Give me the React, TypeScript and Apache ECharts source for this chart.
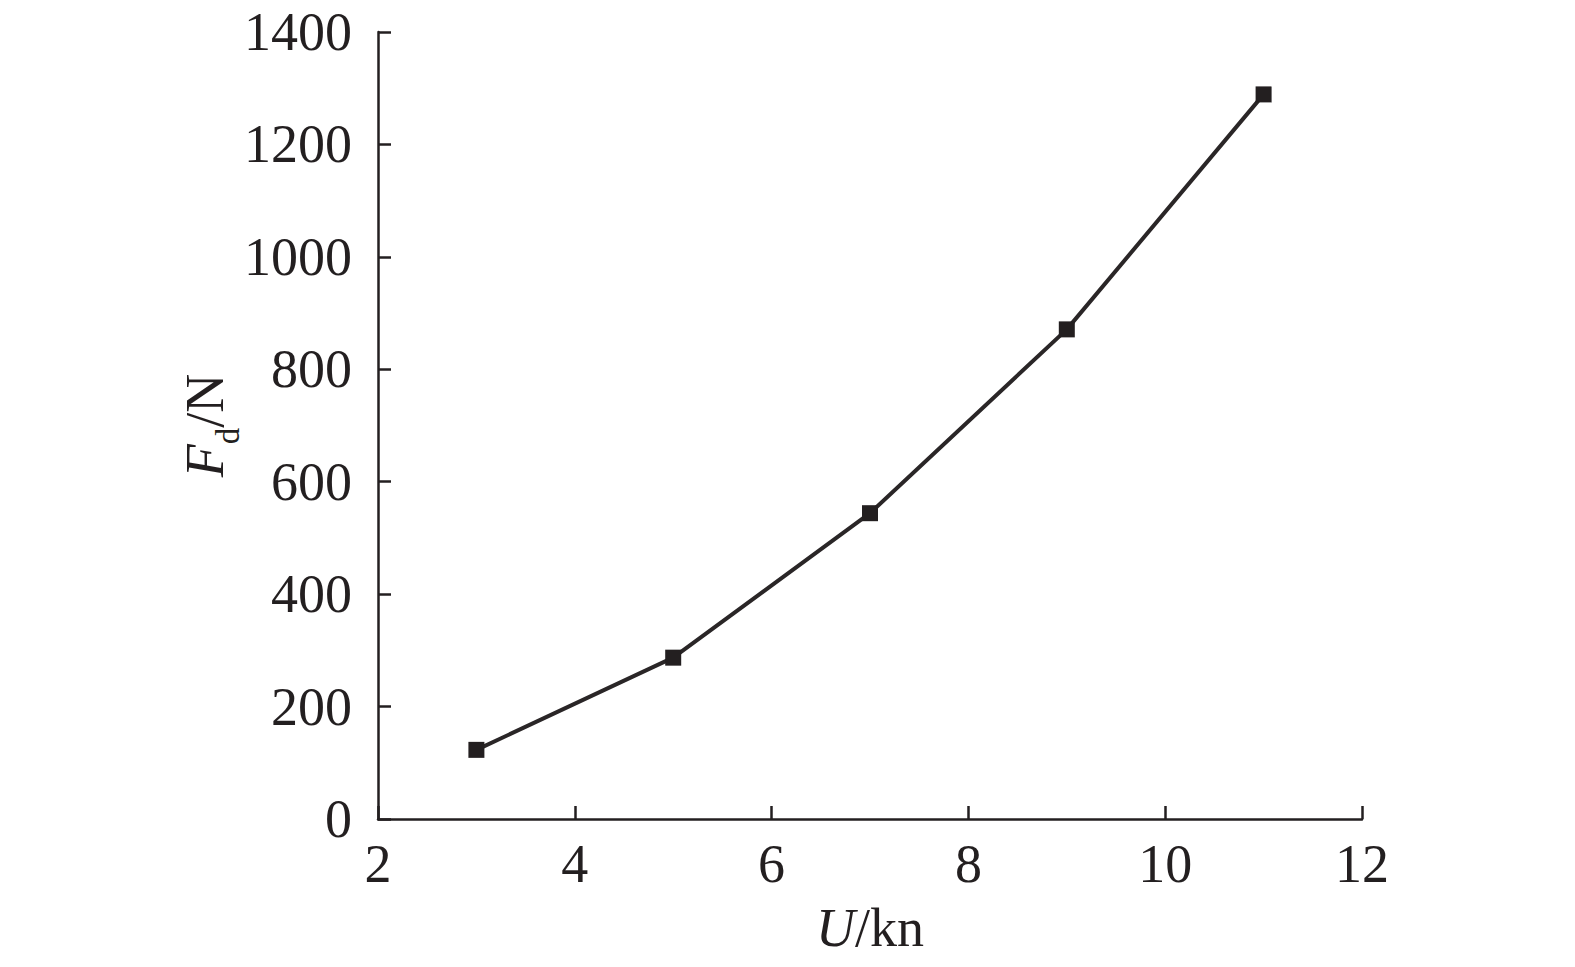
import React, { useEffect, useRef } from "react";
import * as echarts from "echarts";

const speeds = [3, 5, 7, 9, 11];
const dragForce = [123, 287, 544, 871, 1289];
const xTicks = [2, 4, 6, 8, 10, 12];
const yTicks = [0, 200, 400, 600, 800, 1000, 1200, 1400];

const INK = "#231f20";
const FONT = "'Liberation Serif', 'Times New Roman', serif";

export default function App() {
  const ref = useRef<HTMLDivElement>(null);
  useEffect(() => {
    document.body.style.margin = "0";
    const chart = echarts.init(ref.current!, undefined, { renderer: "svg" });
    chart.setOption({
      animation: false,
      backgroundColor: "#ffffff",
      grid: { left: 378, right: 213, top: 32, bottom: 148, containLabel: false },
      xAxis: {
        type: "value",
        min: xTicks[0],
        max: xTicks[xTicks.length - 1],
        interval: 2,
        name: "{i|U}{n|/kn}",
        nameLocation: "middle",
        nameGap: 82,
        nameMoveOverlap: false,
        nameTextStyle: {
          verticalAlign: "top",
          rich: {
            i: { fontFamily: FONT, fontSize: 54, fontStyle: "italic", color: INK },
            n: { fontFamily: FONT, fontSize: 54, color: INK },
          },
        },
        axisLine: { show: true, onZero: false, lineStyle: { color: INK, width: 2.5 } },
        axisTick: { show: true, inside: true, length: 13, lineStyle: { color: INK, width: 2.5 } },
        axisLabel: { color: INK, fontFamily: FONT, fontSize: 54, margin: 18, formatter: (v: number) => String(v) },
        splitLine: { show: false },
      },
      yAxis: {
        type: "value",
        min: yTicks[0],
        max: yTicks[yTicks.length - 1],
        interval: 200,
        name: "{i|F}{s|d}{n|/N}",
        nameLocation: "middle",
        nameRotate: 90,
        nameGap: 134,
        nameMoveOverlap: false,
        nameTextStyle: {
          rich: {
            i: { fontFamily: FONT, fontSize: 54, fontStyle: "italic", color: INK, verticalAlign: "bottom", lineHeight: 60, padding: [0, 0, 12, 0] },
            s: { fontFamily: FONT, fontSize: 33, color: INK, verticalAlign: "bottom", lineHeight: 46 },
            n: { fontFamily: FONT, fontSize: 54, color: INK, verticalAlign: "bottom", lineHeight: 60, padding: [0, 0, 12, 0] },
          },
        },
        axisLine: { show: true, onZero: false, lineStyle: { color: INK, width: 2.5 } },
        axisTick: { show: true, inside: true, length: 13, lineStyle: { color: INK, width: 2.5 } },
        axisLabel: { color: INK, fontFamily: FONT, fontSize: 54, margin: 26, formatter: (v: number) => String(v) },
        splitLine: { show: false },
      },
      series: [
        {
          type: "line",
          data: speeds.map((s, i) => [s, dragForce[i]]),
          symbol: "rect",
          symbolSize: 16,
          lineStyle: { color: "#2a2627", width: 4 },
          itemStyle: { color: INK },
        },
      ],
    });
    return () => chart.dispose();
  }, []);
  return <div ref={ref} style={{ width: 1575, height: 967 }} />;
}
